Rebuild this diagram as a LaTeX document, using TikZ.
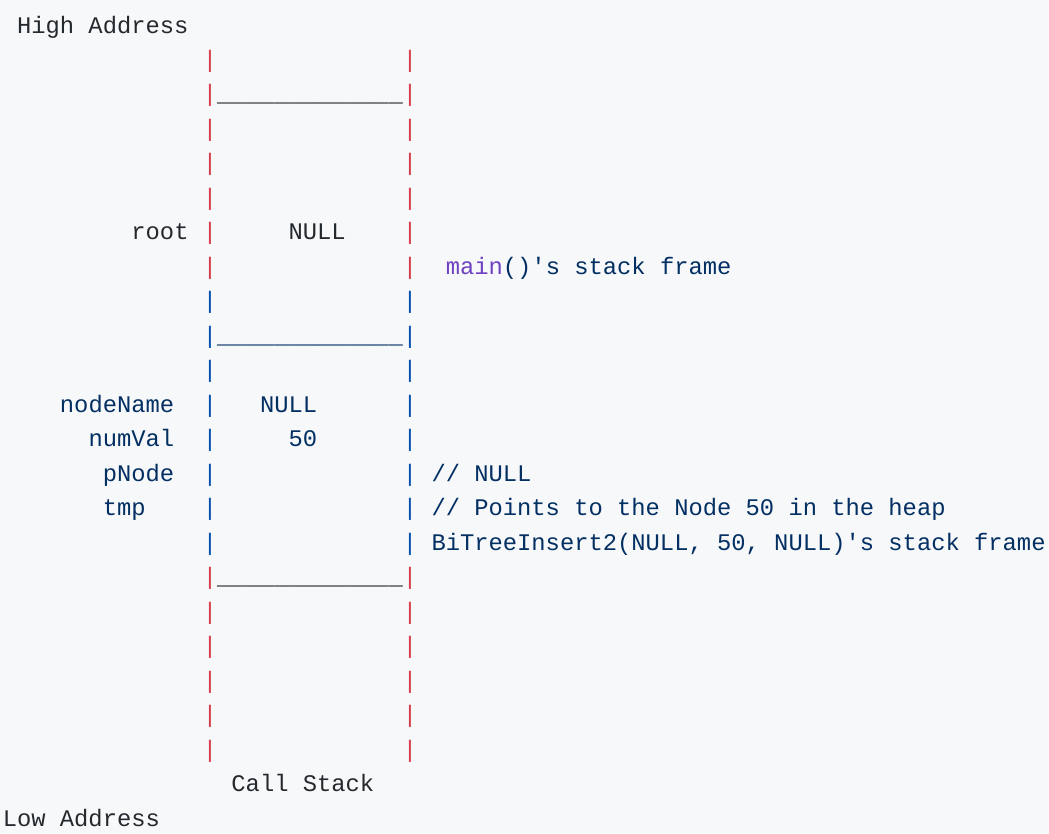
\documentclass[tikz,border=0pt]{standalone}
\usepackage{fontspec}
\newfontfamily\codefont{Liberation Mono}
\definecolor{codebg}{HTML}{F6F8FA}
\definecolor{plain}{HTML}{24292E}
\definecolor{kw}{HTML}{D73A49}
\definecolor{fn}{HTML}{6F42C1}
\definecolor{str}{HTML}{032F62}
\definecolor{bar}{HTML}{0550AE}
% character cell: column c, line r
\newcommand\cellpos[2]{({2.8+14.29*#1},{33+34.48*#2})}
\newcommand\tok[5]{\node[code,text=#4] (#1) at \cellpos{#2}{#3} {#5};}
\begin{document}
\frenchspacing
\begin{tikzpicture}[x=1pt,y=-1pt,
  code/.style={anchor=base west, inner sep=0pt, outer sep=0pt,
    font=\codefont\fontsize{23.8}{28}\selectfont}]
\fill[codebg] (0,0) rectangle (1049,833);
\useasboundingbox (0,0) rectangle (1049,833);

% frame walls
\foreach \r/\c in {1/kw,2/kw,3/kw,4/kw,5/kw,6/kw,7/kw,
                   8/bar,9/bar,10/bar,11/bar,12/bar,13/bar,14/bar,15/bar,
                   16/kw,17/kw,18/kw,19/kw,20/kw,21/kw}{
  \node[code,text=\c] (wl\r) at \cellpos{14}{\r} {|};
  \node[code,text=\c] (wr\r) at \cellpos{28}{\r} {|};
}

% frame separators
\tok{sep2}{15}{2}{plain}{\_\_\_\_\_\_\_\_\_\_\_\_\_}
\tok{sep9}{15}{9}{str}{\_\_\_\_\_\_\_\_\_\_\_\_\_}
\tok{sep16}{15}{16}{plain}{\_\_\_\_\_\_\_\_\_\_\_\_\_}

% labels
\tok{high}{1}{0}{plain}{High Address}
\tok{low}{0}{23}{plain}{Low Address}
\tok{callstack}{16}{22}{plain}{Call Stack}

% main() frame
\tok{root}{9}{6}{plain}{root}
\tok{rootval}{20}{6}{plain}{NULL}
\node[code,text=str] (mainframe) at \cellpos{31}{7}
  {\textcolor{fn}{main}()'s stack frame};

% BiTreeInsert2 frame
\tok{nodename}{4}{11}{str}{nodeName}
\tok{nodenameval}{18}{11}{str}{NULL}
\tok{numval}{6}{12}{str}{numVal}
\tok{numvalval}{20}{12}{str}{50}
\tok{pnode}{7}{13}{str}{pNode}
\tok{pnodenote}{30}{13}{str}{// NULL}
\tok{tmp}{7}{14}{str}{tmp}
\tok{tmpnote}{30}{14}{str}{// Points to the Node 50 in the heap}
\tok{insertframe}{30}{15}{str}{BiTreeInsert2(NULL, 50, NULL)'s stack frame}
\end{tikzpicture}
\end{document}
